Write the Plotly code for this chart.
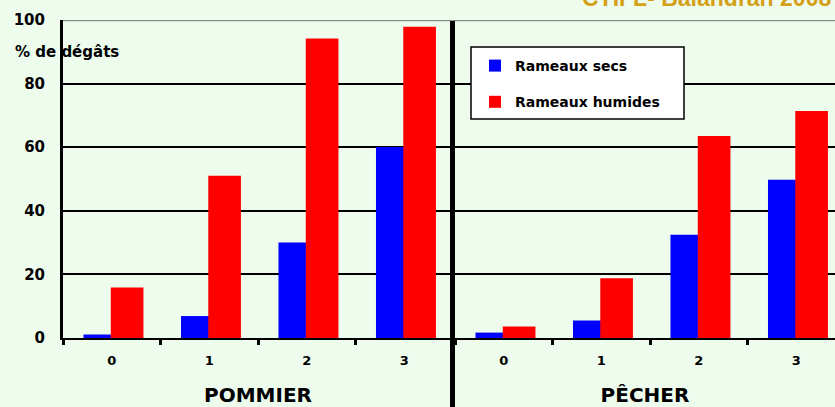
import plotly.graph_objects as go

# Damage (%) on dry vs. wet shoots, by class, for apple and peach
classes = ["0", "1", "2", "3"]
pommier_secs = [1.1, 6.9, 30.0, 60.1]
pommier_humides = [15.9, 51.0, 94.2, 97.9]
pecher_secs = [1.7, 5.5, 32.5, 49.8]
pecher_humides = [3.6, 18.8, 63.5, 71.4]

series_names = ["Rameaux secs", "Rameaux humides"]
y_ticks = [0, 20, 40, 60, 80, 100]
y_ticktext = ["0", "20", "40", "60", "80", "100"]

BG = "#EDFCED"
BLUE = "#0000FF"
RED = "#FF0000"
FONT = "DejaVu Sans"

W, H = 835, 407
ML, MT, MB, MR = 63, 20, 69, 0
PW, PH = W - ML - MR, H - MT - MB


def px_x(px):
    return (px - ML) / PW


def px_y(py):
    return (H - MB - py) / PH


fig = go.Figure()

for xa, ya, secs, hum, show in [
    ("x", "y", pommier_secs, pommier_humides, True),
    ("x2", "y2", pecher_secs, pecher_humides, False),
]:
    fig.add_trace(go.Bar(
        x=classes, y=secs, name=series_names[0], xaxis=xa, yaxis=ya,
        marker=dict(color=BLUE, line=dict(width=0)),
        offset=-0.29, width=0.29, showlegend=show, legendgroup="secs",
    ))
    fig.add_trace(go.Bar(
        x=classes, y=hum, name=series_names[1], xaxis=xa, yaxis=ya,
        marker=dict(color=RED, line=dict(width=0)),
        offset=-0.01, width=0.335, showlegend=show, legendgroup="humides",
    ))

xcommon = dict(
    type="category", showline=True, linecolor="black", linewidth=2,
    ticks="outside", tickson="boundaries", ticklen=5, tickwidth=3,
    tickcolor="black", showgrid=False, zeroline=False,
    ticklabelstandoff=9,
    tickfont=dict(family=FONT, size=13, color="black", weight="bold"),
    title_font=dict(family=FONT, size=20, color="black", weight="bold"),
    title_standoff=23, fixedrange=True,
)
ycommon = dict(
    range=[0, 100], tickvals=y_ticks, ticktext=y_ticktext,
    showgrid=True, gridcolor="black", gridwidth=1.5, zeroline=False,
    ticks="", fixedrange=True,
)

fig.update_layout(
    width=W, height=H,
    margin=dict(l=ML, r=MR, t=MT, b=MB, pad=0),
    paper_bgcolor=BG, plot_bgcolor=BG,
    barmode="overlay",
    xaxis=dict(domain=[0, px_x(453)], range=[-0.5, 3.5], anchor="y",
               title_text="POMMIER", **xcommon),
    xaxis2=dict(domain=[px_x(455), 1], range=[-0.5, -0.5 + 380 / 97.5],
                anchor="y2", title_text="PÊCHER", **xcommon),
    yaxis=dict(anchor="x", showline=True, linecolor="black", linewidth=3,
               ticklabelstandoff=12,
               tickfont=dict(family=FONT, size=15, color="black", weight="bold"),
               **ycommon),
    yaxis2=dict(anchor="x2", showline=False, showticklabels=False, **ycommon),
    legend=dict(
        x=px_x(475), y=px_y(50), xanchor="left", yanchor="top",
        bgcolor="rgba(0,0,0,0)", borderwidth=0, tracegroupgap=15,
        font=dict(family=FONT, size=14, color="black", weight="bold"),
    ),
    shapes=[
        # top rule at 100
        dict(type="line", xref="paper", yref="y", x0=0, x1=1, y0=100, y1=100,
             line=dict(color="#8A8A8A", width=2.5), layer="above"),
        # separator between the two panels
        dict(type="line", xref="paper", yref="paper",
             x0=px_x(452.5), x1=px_x(452.5), y0=px_y(21), y1=px_y(H + 2),
             line=dict(color="black", width=5), layer="above"),
        # legend frame
        dict(type="rect", xref="paper", yref="paper",
             x0=px_x(471), x1=px_x(684), y0=px_y(119), y1=px_y(47),
             fillcolor="white", line=dict(color="black", width=1.5),
             layer="above"),
    ],
    annotations=[
        dict(text="% de dégâts", xref="paper", yref="paper",
             x=px_x(13), y=px_y(52), xanchor="left", yanchor="middle",
             showarrow=False,
             font=dict(family=FONT, size=15, color="black", weight="bold")),
        dict(text="CTIFL- Balandran 2008", xref="paper", yref="paper",
             x=px_x(580), y=px_y(13), xanchor="left", yanchor="bottom",
             showarrow=False,
             font=dict(family="Liberation Sans", size=23, color="#D4A017",
                       weight="bold")),
    ],
)

fig.write_html("out.html", config={"displayModeBar": False})
